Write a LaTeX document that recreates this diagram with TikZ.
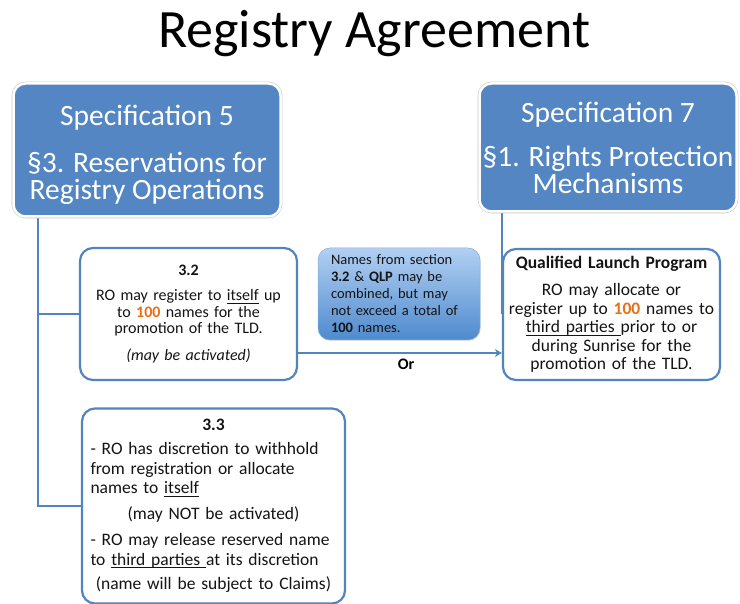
\documentclass[tikz,border=0pt]{standalone}
\usepackage{fontspec}
\setmainfont{Carlito}
\usetikzlibrary{arrows.meta,positioning,shadows,backgrounds}
\definecolor{cSpec}{RGB}{83,134,194}
\definecolor{cLine}{RGB}{82,133,192}
\definecolor{cNum}{RGB}{232,112,20}
\definecolor{cText}{RGB}{20,20,20}
\definecolor{cNoteTop}{RGB}{178,208,242}
\definecolor{cNoteBot}{RGB}{78,138,206}
\newsavebox{\uwordbox}
\newcommand{\uword}[1]{\leavevmode\sbox\uwordbox{#1}\rlap{\rule[-2.6pt]{\wd\uwordbox}{0.8pt}}\usebox\uwordbox}
\newcommand{\emnum}[1]{\textbf{\textcolor{cNum}{#1}}}
\newcommand{\midrow}[1]{\makebox[\hsize]{#1}}

\begin{document}
\begin{tikzpicture}[x=1pt,y=-1pt,
    specbox/.style={fill=cSpec,draw=white,line width=2.5pt,rounded corners=12pt,
      preaction={draw=black!22,line width=3.6pt},
      drop shadow={shadow xshift=0.8pt,shadow yshift=-1.2pt,opacity=0.25},
      text=white,align=center,inner sep=0pt,font=\fontsize{29.5}{27}\selectfont},
    itembox/.style={fill=white,draw=cLine,line width=2.2pt,rounded corners=13pt,
      text=cText,inner sep=0pt},
    notebox/.style={top color=cNoteTop,bottom color=cNoteBot,draw=cNoteBot!70!white,
      line width=0.5pt,rounded corners=12pt,text=cText,inner sep=0pt,
      drop shadow={shadow xshift=0.6pt,shadow yshift=-1pt,opacity=0.2}},
    link/.style={draw=cLine,line width=2.4pt},
    arrow/.style={link,-{Stealth[length=7pt,width=8pt]}}]
  \useasboundingbox (0,0) rectangle (740,604);

  % title
  \node[anchor=base,font=\fontsize{54}{60}\selectfont] (title) at (374,48) {Registry Agreement};

  % the two specifications
  \node[specbox,minimum width=267pt,minimum height=133pt] (spec5) at (147,150)
    {\rule{0pt}{30pt}Specification 5\\[20pt]§3. Reservations for\\Registry Operations};
  \node[specbox,minimum width=257pt,minimum height=128pt] (spec7) at (608,147.5)
    {Specification 7\\[17pt]§1. Rights Protection\\Mechanisms};

  % sections under spec 5
  \node[itembox,minimum width=217pt,minimum height=132pt,text width=208pt,align=center,
        font=\fontsize{16}{16.5}\selectfont] (sec32) at (188.5,314)
    {\textbf{3.2}\\[9pt]RO may register to \uword{itself} up\\to \emnum{100} names for the\\
     promotion of the TLD.\\[10pt]\textit{(may be activated)}};
  \node[itembox,minimum width=263pt,minimum height=195pt,text width=246pt,align=left,
        font=\fontsize{17.5}{19.5}\selectfont] (sec33) at (213.5,506)
    {\midrow{\textbf{3.3}}\\[5pt]
     - RO has discretion to withhold\\
     from registration or allocate\\
     names to \uword{itself}\\[6pt]
     \midrow{(may NOT be activated)}\\[7pt]
     - RO may release reserved name\\
     to \uword{third parties\ }at its discretion\\[5pt]
     \midrow{(name will be subject to Claims)}};

  % QLP under spec 7
  \node[itembox,minimum width=217pt,minimum height=131pt,text width=214pt,align=center,
        font=\fontsize{17.5}{18.5}\selectfont] (qlp) at (611.5,314.5)
    {\textbf{Qualified Launch Program}\\[9pt]RO may allocate or\\
     register up to \emnum{100} names to\\\uword{third parties\ }prior to or\\
     during Sunrise for the\\promotion of the TLD.};

  % shared limit
  \node[notebox,minimum width=162pt,minimum height=92pt,text width=136pt,align=left,
        font=\fontsize{14.5}{17}\selectfont] (note) at (399,294)
    {Names from section\\\textbf{3.2} \& \textbf{QLP} may be\\combined, but may\\
     not exceed a total of\\\textbf{100} names.};

  % connectors
  \begin{scope}[on background layer]
    \draw[link] ([xshift=26pt]spec5.south west) |- (sec32.west);
    \draw[link] ([xshift=26pt]spec5.south west) |- (sec33.west);
    \draw[link] (spec7.south -| qlp.west) -- (qlp.west);
  \end{scope}
  \draw[arrow] ([yshift=-39pt]sec32.east) -- ([yshift=-39pt]sec32.east -| qlp.west)
    node[pos=0.53,below=5pt,inner sep=0pt,font=\fontsize{16}{16}\bfseries] (orlabel) {Or};
\end{tikzpicture}
\end{document}
